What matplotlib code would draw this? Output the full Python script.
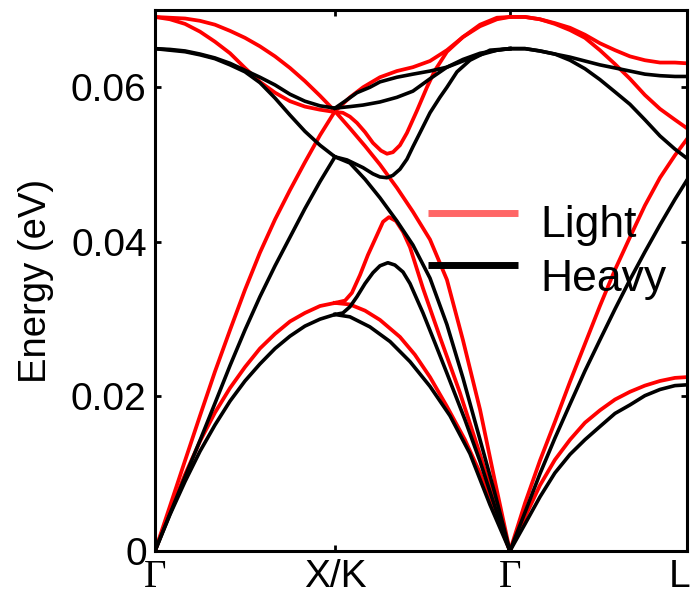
import matplotlib
matplotlib.use("Agg")
import matplotlib.pyplot as plt
import matplotlib.transforms as mtransforms
from matplotlib.lines import Line2D

plt.rcParams["font.family"] = ["Liberation Sans", "DejaVu Sans"]

# High-symmetry path: Gamma -> X/K -> Gamma -> L (path coordinate)
path_ticks = [0.0, 1.0, 1.972, 2.956]
path_labels = ["Γ", "X/K", "Γ", "L"]
energy_ticks = [0.0, 0.02, 0.04, 0.06]
energy_tick_labels = ["0", "0.02", "0.04", "0.06"]
series_names = ["Light", "Heavy"]

# ---- Segment Gamma -> X ----
k_gx = [0.0, 0.083, 0.167, 0.25, 0.333, 0.417, 0.5, 0.583, 0.667, 0.75, 0.833, 0.917, 1.0]
light_ta_gx = [0.0, 0.0051, 0.0099, 0.0142, 0.0179, 0.0211, 0.0238, 0.0262, 0.0281, 0.0297, 0.0308, 0.0317, 0.0321]
light_la_gx = [0.0, 0.0058, 0.0117, 0.0175, 0.0232, 0.0286, 0.0338, 0.0386, 0.0429, 0.0467, 0.0503, 0.0538, 0.0569]
light_lo_gx = [0.0691, 0.0690, 0.0689, 0.0686, 0.0681, 0.0673, 0.0664, 0.0653, 0.0640, 0.0625, 0.0608, 0.0589, 0.0569]
light_to_gx = [0.0691, 0.0688, 0.0682, 0.0672, 0.0659, 0.0644, 0.0625, 0.0607, 0.0593, 0.0582, 0.0575, 0.0571, 0.0568]
heavy_ta_gx = [0.0, 0.0047, 0.0090, 0.0129, 0.0163, 0.0194, 0.0220, 0.0242, 0.0262, 0.0278, 0.0291, 0.0300, 0.0306]
heavy_la_gx = [0.0, 0.0048, 0.0096, 0.0143, 0.0191, 0.0240, 0.0286, 0.0329, 0.0369, 0.0406, 0.0443, 0.0478, 0.0510]
heavy_lo_gx = [0.0650, 0.0648, 0.0646, 0.0642, 0.0637, 0.0629, 0.0620, 0.0606, 0.0586, 0.0564, 0.0543, 0.0525, 0.0510]
heavy_to_gx = [0.0650, 0.0649, 0.0647, 0.0643, 0.0638, 0.0631, 0.0622, 0.0613, 0.0603, 0.0591, 0.0582, 0.0576, 0.0573]

# ---- Segment K -> Gamma ----
k_kg_light_ta = [1.0, 1.083, 1.167, 1.25, 1.361, 1.444, 1.528, 1.622, 1.722, 1.806, 1.889, 1.972]
light_ta_kg = [0.0321, 0.0319, 0.0311, 0.0299, 0.0277, 0.0254, 0.0225, 0.0187, 0.0144, 0.0101, 0.0051, 0.0]
k_kg_light_ta2 = [1.0, 1.056, 1.094, 1.139, 1.183, 1.228, 1.267, 1.3, 1.339, 1.378, 1.417, 1.489, 1.583, 1.694, 1.806, 1.889, 1.972]
light_ta2_kg = [0.0321, 0.0324, 0.0334, 0.0357, 0.0383, 0.0406, 0.0426, 0.0432, 0.0427, 0.0413, 0.0393, 0.0340, 0.0277, 0.0205, 0.0125, 0.0063, 0.0]
k_kg_la = [1.0, 1.083, 1.167, 1.25, 1.344, 1.433, 1.528, 1.622, 1.711, 1.806, 1.889, 1.972]
light_la_kg = [0.0569, 0.0547, 0.0524, 0.0500, 0.0470, 0.0439, 0.0403, 0.0351, 0.0273, 0.0183, 0.0090, 0.0]
heavy_la_kg = [0.0510, 0.0502, 0.0481, 0.0457, 0.0427, 0.0396, 0.0353, 0.0293, 0.0224, 0.0144, 0.0074, 0.0]
k_kg_light_dip = [1.0, 1.044, 1.083, 1.122, 1.167, 1.211, 1.256, 1.289, 1.322, 1.361, 1.4, 1.456, 1.511, 1.556, 1.622, 1.711, 1.806, 1.9, 1.972]
light_dip_kg = [0.0568, 0.0567, 0.0562, 0.0554, 0.0542, 0.0528, 0.0518, 0.0514, 0.0516, 0.0525, 0.0541, 0.0570, 0.0600, 0.0622, 0.0646, 0.0665, 0.0679, 0.0688, 0.0691]
k_kg_light_op = [1.0, 1.083, 1.156, 1.25, 1.344, 1.433, 1.528, 1.622, 1.711, 1.806, 1.9, 1.972]
light_op_kg = [0.0569, 0.0587, 0.0600, 0.0613, 0.0621, 0.0626, 0.0634, 0.0648, 0.0665, 0.0681, 0.0690, 0.0691]

k_kg_heavy_ta = [1.0, 1.083, 1.194, 1.306, 1.417, 1.528, 1.639, 1.75, 1.861, 1.972]
heavy_ta_kg = [0.0306, 0.0303, 0.0290, 0.0271, 0.0245, 0.0213, 0.0175, 0.0126, 0.0060, 0.0]
k_kg_heavy_ta2 = [1.0, 1.044, 1.083, 1.122, 1.167, 1.211, 1.25, 1.294, 1.333, 1.378, 1.417, 1.489, 1.556, 1.622, 1.722, 1.806, 1.889, 1.972]
heavy_ta2_kg = [0.0306, 0.0308, 0.0316, 0.0329, 0.0346, 0.0360, 0.0369, 0.0373, 0.0370, 0.0361, 0.0346, 0.0308, 0.0269, 0.0230, 0.0170, 0.0116, 0.0057, 0.0]
k_kg_heavy_dip = [1.0, 1.067, 1.156, 1.211, 1.25, 1.289, 1.322, 1.361, 1.4, 1.433, 1.472, 1.528, 1.583, 1.622, 1.678, 1.75, 1.861, 1.972]
heavy_dip_kg = [0.0510, 0.0506, 0.0496, 0.0488, 0.0484, 0.0483, 0.0486, 0.0494, 0.0507, 0.0523, 0.0541, 0.0567, 0.0587, 0.0600, 0.0620, 0.0635, 0.0648, 0.0650]
k_kg_heavy_op1 = [1.0, 1.056, 1.122, 1.194, 1.25, 1.344, 1.433, 1.528, 1.622, 1.711, 1.806, 1.9, 1.972]
heavy_op1_kg = [0.0573, 0.0582, 0.0593, 0.0600, 0.0607, 0.0613, 0.0617, 0.0621, 0.0626, 0.0634, 0.0642, 0.0648, 0.0650]
k_kg_heavy_op2 = [1.0, 1.083, 1.156, 1.25, 1.344, 1.433, 1.528, 1.622, 1.711, 1.806, 1.9, 1.972]
heavy_op2_kg = [0.0573, 0.0575, 0.0577, 0.0581, 0.0587, 0.0595, 0.0611, 0.0626, 0.0636, 0.0644, 0.0648, 0.0650]

# ---- Segment Gamma -> L ----
k_gl = [1.972, 2.056, 2.139, 2.222, 2.306, 2.389, 2.472, 2.556, 2.639, 2.722, 2.806, 2.889, 2.956]
light_ta_gl = [0.0, 0.0044, 0.0085, 0.0118, 0.0144, 0.0166, 0.0182, 0.0196, 0.0206, 0.0214, 0.0220, 0.0224, 0.0225]
light_la_gl = [0.0, 0.0062, 0.0117, 0.0167, 0.0219, 0.0268, 0.0317, 0.0364, 0.0406, 0.0447, 0.0483, 0.0512, 0.0533]
light_lo_gl = [0.0691, 0.0691, 0.0688, 0.0682, 0.0674, 0.0664, 0.0648, 0.0630, 0.0611, 0.0590, 0.0572, 0.0558, 0.0547]
light_to_gl = [0.0691, 0.0691, 0.0688, 0.0683, 0.0677, 0.0668, 0.0657, 0.0648, 0.0640, 0.0635, 0.0632, 0.0632, 0.0631]
heavy_ta_gl = [0.0, 0.0035, 0.0070, 0.0101, 0.0125, 0.0144, 0.0161, 0.0178, 0.0189, 0.0201, 0.0209, 0.0214, 0.0215]
heavy_la_gl = [0.0, 0.0050, 0.0100, 0.0146, 0.0190, 0.0233, 0.0273, 0.0313, 0.0351, 0.0387, 0.0422, 0.0455, 0.0480]
heavy_lo_gl = [0.0650, 0.0650, 0.0647, 0.0643, 0.0635, 0.0624, 0.0610, 0.0594, 0.0578, 0.0558, 0.0537, 0.0520, 0.0508]
heavy_to_gl = [0.0650, 0.0650, 0.0647, 0.0643, 0.0639, 0.0634, 0.0629, 0.0625, 0.0621, 0.0617, 0.0615, 0.0614, 0.0614]

light_branches = [
    (k_gx, light_ta_gx), (k_gx, light_la_gx), (k_gx, light_lo_gx), (k_gx, light_to_gx),
    (k_kg_light_ta, light_ta_kg), (k_kg_light_ta2, light_ta2_kg), (k_kg_la, light_la_kg),
    (k_kg_light_dip, light_dip_kg), (k_kg_light_op, light_op_kg),
    (k_gl, light_ta_gl), (k_gl, light_la_gl), (k_gl, light_lo_gl), (k_gl, light_to_gl),
]
heavy_branches = [
    (k_gx, heavy_ta_gx), (k_gx, heavy_la_gx), (k_gx, heavy_lo_gx), (k_gx, heavy_to_gx),
    (k_kg_heavy_ta, heavy_ta_kg), (k_kg_heavy_ta2, heavy_ta2_kg), (k_kg_la, heavy_la_kg),
    (k_kg_heavy_dip, heavy_dip_kg), (k_kg_heavy_op1, heavy_op1_kg), (k_kg_heavy_op2, heavy_op2_kg),
    (k_gl, heavy_ta_gl), (k_gl, heavy_la_gl), (k_gl, heavy_lo_gl), (k_gl, heavy_to_gl),
]

fig = plt.figure(figsize=(6.91, 5.96), dpi=100)
ax = fig.add_axes([155 / 691, 1 - 551 / 596, 532 / 691, 541 / 596])

for k, e in light_branches:
    ax.plot(k, e, color="#ff0000", lw=2.7)
for k, e in heavy_branches:
    ax.plot(k, e, color="#000000", lw=2.6)

ax.set_xlim(path_ticks[0], path_ticks[-1])
ax.set_ylim(0, 0.07)
ax.set_xticks(path_ticks)
ax.set_xticklabels(path_labels)
ax.set_yticks(energy_ticks)
ax.set_yticklabels(energy_tick_labels)
ax.tick_params(direction="in", length=4, width=2, top=True, right=True,
               labelsize=28, pad=6)
xlabels = ax.get_xticklabels()
for lab in xlabels:
    if lab.get_text() == "Γ":
        lab.set_fontfamily(["Liberation Serif", "DejaVu Serif"])
# keep the last path label inside the canvas
xlabels[-1].set_transform(xlabels[-1].get_transform()
                          + mtransforms.ScaledTranslation(-7 / 100, 0, fig.dpi_scale_trans))
for sp in ax.spines.values():
    sp.set_linewidth(2.2)

ax.set_ylabel("Energy (eV)", fontsize=27.5, labelpad=12)

# Legend: line samples and labels in axes-fraction coordinates
legend_colors = ["#ff6666", "#000000"]
legend_line_y = [0.625, 0.529]
legend_text_y = [0.601, 0.501]
for name, col, ly, ty in zip(series_names, legend_colors, legend_line_y, legend_text_y):
    ax.add_line(Line2D([0.513, 0.682], [ly, ly], color=col, lw=5,
                       transform=ax.transAxes, solid_capstyle="butt"))
    ax.text(0.724, ty, name, transform=ax.transAxes, fontsize=32,
            va="center", ha="left")

fig.savefig("out.png", dpi=100)
